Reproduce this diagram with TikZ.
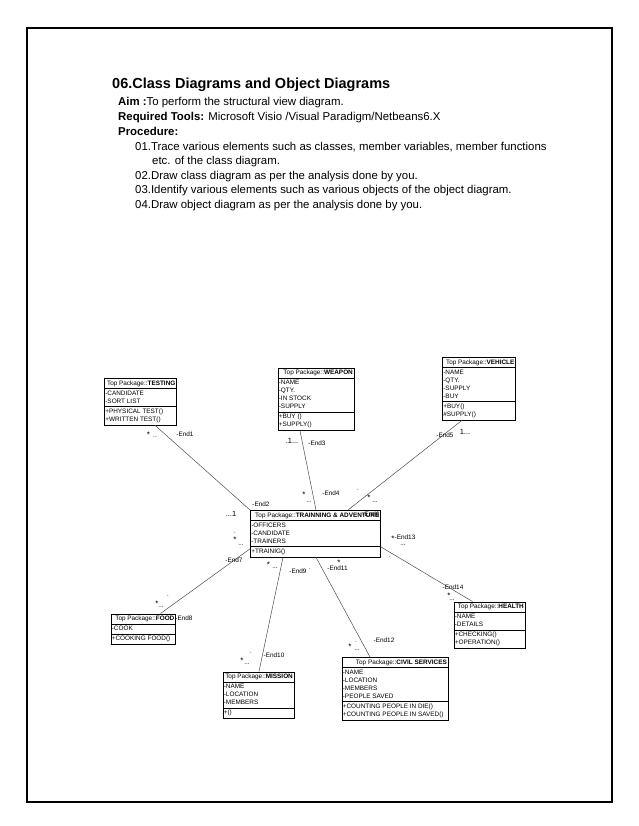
\documentclass[tikz,border=0pt]{standalone}
\usepackage{fontspec}
\setmainfont{Liberation Sans}
\usetikzlibrary{shapes.multipart}
\newcommand\hdr[1]{\hspace*{\fill}\strut Top Package::\textbf{#1}}
\begin{document}
\begin{tikzpicture}[x=1pt,y=-1pt,
  cls/.style={draw, line width=0.7pt, rectangle split, rectangle split parts=3,
    anchor=north west, inner xsep=1pt, inner ysep=0.75pt,
    font=\fontsize{6.4}{8}\selectfont, align=flush left},
  conn/.style={draw=black!70, line width=0.5pt},
  lbl/.style={font=\fontsize{6.4}{8}\selectfont, inner sep=0pt},
  star/.style={font=\fontsize{8}{9}\selectfont, inner sep=0pt},
  mul/.style={font=\fontsize{7.5}{9}\selectfont, inner sep=0pt},
  body/.style={anchor=base west, inner sep=0pt, font=\fontsize{11.4}{14}\selectfont},
]
\useasboundingbox (0,0) rectangle (638,826);
\draw[line width=1.1pt] (27,28) rectangle (612,802);

% ---------- text block ----------
\node[anchor=base west, inner sep=0pt, font=\bfseries\fontsize{14.5}{17}\selectfont] (title) at (112,89) {06.Class Diagrams and Object Diagrams};
\node[body] (aim) at (118,106) {\textbf{Aim :}To perform the structural view diagram.};
\node[body] (tools) at (118,121) {\textbf{Required Tools:} Microsoft Visio /Visual Paradigm/Netbeans6.X};
\node[body] (proc) at (118,135.5) {\textbf{Procedure:}};
\node[body] (s1) at (135,150.5) {01.Trace various elements such as classes, member variables, member functions};
\node[body] (s1b) at (152,165) {etc. of the class diagram.};
\node[body] (s2) at (135,179.5) {02.Draw class diagram as per the analysis done by you.};
\node[body] (s3) at (135,194) {03.Identify various elements such as various objects of the object diagram.};
\node[body] (s4) at (135,208.5) {04.Draw object diagram as per the analysis done by you.};

% ---------- classes ----------
\node[cls, text width=70pt] (testing) at (104,378)
  {\hdr{TESTING}\nodepart{second}\strut -CANDIDATE\\\strut -SORT LIST\nodepart{third}\strut +PHYSICAL TEST()\\\strut +WRITTEN TEST()};
\node[cls, text width=74pt] (weapon) at (277.5,367.5)
  {\hdr{WEAPON}\nodepart{second}\strut -NAME\\\strut -QTY.\\\strut -IN STOCK\\\strut -SUPPLY\nodepart{third}\strut +BUY ()\\\strut +SUPPLY()};
\node[cls, text width=71pt] (vehicle) at (442,357)
  {\hdr{VEHICLE}\nodepart{second}\strut -NAME\\\strut -QTY.\\\strut -SUPPLY\\\strut -BUY\nodepart{third}\strut +BUY()\\\strut \#SUPPLY()};
\node[cls, text width=128pt] (trainning) at (250,510)
  {\hdr{TRAINNING \& ADVENTURE}\nodepart{second}\strut -OFFICERS\\\strut -CANDIDATE\\\strut -TRAINERS\nodepart{third}\strut +TRAINIG()};
\node[cls, text width=62.5pt] (food) at (110.5,613.5)
  {\hdr{FOOD}\nodepart{second}\strut -COOK\nodepart{third}\strut +COOKING FOOD()};
\node[cls, text width=69pt] (health) at (453.5,601.5)
  {\hdr{HEALTH}\nodepart{second}\strut -NAME\\\strut -DETAILS\nodepart{third}\strut +CHECKING()\\\strut +OPERATION()};
\node[cls, text width=69pt] (mission) at (222.5,671.5)
  {\hdr{MISSION}\nodepart{second}\strut -NAME\\\strut -LOCATION\\\strut -MEMBERS\nodepart{third}\strut +()};
\node[cls, text width=104pt] (civil) at (341.5,657)
  {\hdr{CIVIL SERVICES}\nodepart{second}\strut -NAME\\\strut -LOCATION\\\strut -MEMBERS\\\strut -PEOPLE SAVED\nodepart{third}\strut +COUNTING PEOPLE IN DIE()\\\strut +COUNTING PEOPLE IN SAVED()};

% ---------- connectors ----------
\draw[conn] ([xshift=51pt]testing.south west) -- (trainning.north west);
\draw[conn] ([xshift=22.5pt]weapon.south west) -- ([xshift=66pt]trainning.north west);
\draw[conn] ([xshift=20pt]vehicle.south west) -- ([xshift=98pt]trainning.north west);
\draw[conn] ([yshift=8.5pt]trainning.south west) -- ([xshift=50pt]food.north west);
\draw[conn] ([xshift=33pt]trainning.south west) -- ([xshift=36.5pt]mission.north west);
\draw[conn] ([xshift=66pt]trainning.south west) -- ([xshift=28.5pt]civil.north west);
\draw[conn] ([yshift=10.5pt]trainning.south east) -- ([xshift=19pt]health.north west);

% ---------- end labels and multiplicities ----------
% testing
\node[star] (m1a) at (148.5,435) {*};
\node[lbl] (m1b) at (155,437) {..};
\node[lbl] (e1) at (185,434) {-End1};
% weapon
\node[mul] (m3) at (292,441) {.1...};
\node[lbl] (e3) at (317,443) {-End3};
% vehicle
\node[lbl] (e5) at (445,435) {-End5};
\node[mul] (m5) at (465,432) {1...};
% trainning top
\node[lbl] (e2) at (261,504) {-End2};
\node[mul] (m2) at (231,514) {...1};
\node[star] (m4a) at (304,495) {*};
\node[lbl] (m4b) at (309,502) {...};
\node[lbl] (e4) at (331,493) {-End4};
\node[lbl] (m6c) at (358,490) {·};
\node[star] (m6a) at (369,498) {*};
\node[lbl] (m6b) at (375,502) {...};
\node[lbl] (e6) at (371,514) {-End6};
% trainning right
\node[lbl] (e13) at (405,537) {-End13};
\node[star] (m13a) at (393,539) {*};
\node[lbl] (m13b) at (403,545) {...};
\node[lbl] (m13c) at (390,557) {·};
% trainning left / bottom
\node[lbl] (m7c) at (235,533) {·};
\node[star] (m7a) at (235,540) {*};
\node[lbl] (m7b) at (241,545.5) {...};
\node[lbl] (e7) at (234,560) {-End7};
\node[star] (m9a) at (268.5,565) {*};
\node[lbl] (m9b) at (275,568.5) {...};
\node[lbl] (e9) at (298,571) {-End9};
\node[lbl] (m9c) at (310,569.5) {·};
\node[star] (m11a) at (339,563) {*};
\node[lbl] (e11) at (337.5,568.5) {-End11};
% health
\node[lbl] (e14) at (453,587) {-End14};
\node[star] (m14a) at (449,596) {*};
\node[lbl] (m14b) at (452,600.5) {...};
% civil
\node[lbl] (e12) at (384,640) {-End12};
\node[star] (m12a) at (350,646.5) {*};
\node[lbl] (m12c) at (356,642.5) {·};
\node[lbl] (m12b) at (357,650) {...};
% food
\node[lbl] (m8c) at (168,596) {·};
\node[star] (m8a) at (157,603.5) {*};
\node[lbl] (m8b) at (161,607) {...};
\node[lbl] (e8) at (184,618) {-End8};
% mission
\node[lbl] (m10c) at (251,653.5) {·};
\node[star] (m10a) at (242,660.5) {*};
\node[lbl] (m10b) at (247,664) {...};
\node[lbl] (e10) at (274,655) {-End10};
\end{tikzpicture}
\end{document}
